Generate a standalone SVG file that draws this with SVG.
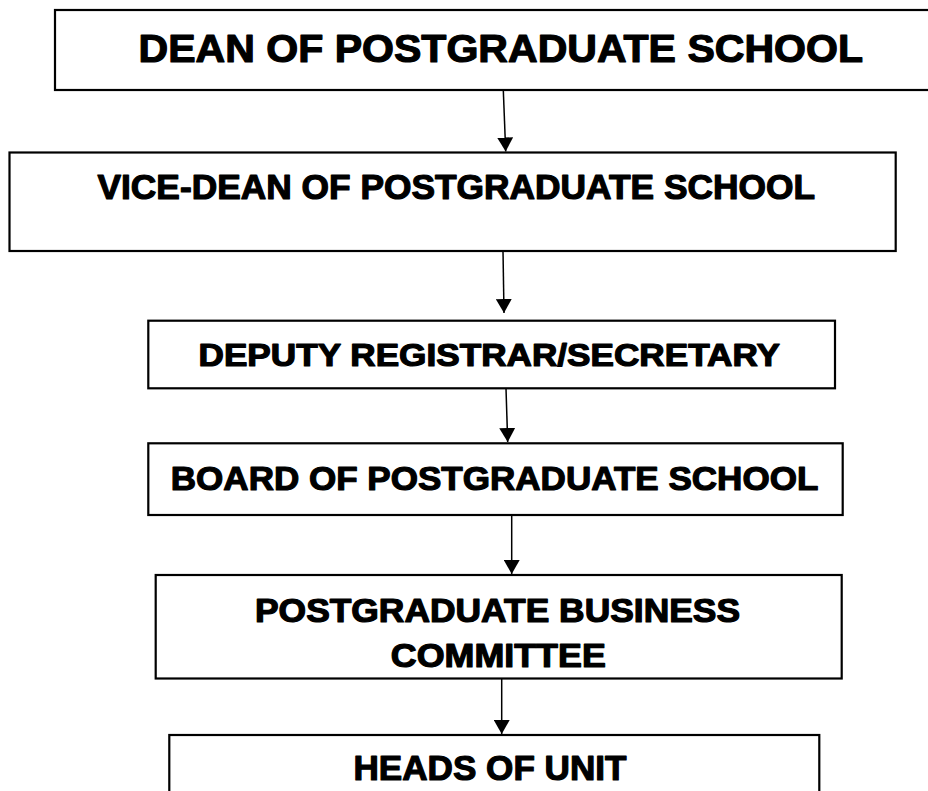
<svg xmlns="http://www.w3.org/2000/svg" width="928" height="791" viewBox="0 0 928 791">
<style>
.box{fill:#fff;stroke:#000;stroke-width:2.2}
.lbl{font-family:"Liberation Sans",Arial,sans-serif;font-weight:bold;fill:#000;stroke:#000;stroke-width:1.2;stroke-linejoin:round}
.conn{stroke:#000;stroke-width:1.5;fill:none}
</style>
<defs>
<marker id="arr" markerUnits="userSpaceOnUse" markerWidth="14" markerHeight="16" viewBox="0 0 14 16" refX="14" refY="8" orient="auto">
<path d="M0,0 L14,8 L0,16 z" fill="#000"/>
</marker>
</defs>
<rect width="928" height="791" fill="#fff"/>
<g id="dean">
<rect class="box" x="55" y="10" width="900" height="80"/>
<text class="lbl" x="138.5" y="61.7" font-size="39.5" textLength="724.5" lengthAdjust="spacingAndGlyphs">DEAN OF POSTGRADUATE SCHOOL</text>
</g>
<g id="vicedean">
<rect class="box" x="9.5" y="152.5" width="886.2" height="98.5"/>
<text class="lbl" x="97.5" y="199" font-size="34.5" textLength="717.5" lengthAdjust="spacingAndGlyphs">VICE-DEAN OF POSTGRADUATE SCHOOL</text>
</g>
<g id="deputy">
<rect class="box" x="148.3" y="320.7" width="686.7" height="67.6"/>
<text class="lbl" x="198.5" y="365.7" font-size="31" textLength="581.5" lengthAdjust="spacingAndGlyphs">DEPUTY REGISTRAR/SECRETARY</text>
</g>
<g id="board">
<rect class="box" x="148.3" y="443.3" width="694.4" height="71.7"/>
<text class="lbl" x="170.8" y="490" font-size="34" textLength="647.5" lengthAdjust="spacingAndGlyphs">BOARD OF POSTGRADUATE SCHOOL</text>
</g>
<g id="business">
<rect class="box" x="155.7" y="575" width="686" height="103.5"/>
<text class="lbl" x="255" y="621.7" font-size="32.5" textLength="485" lengthAdjust="spacingAndGlyphs">POSTGRADUATE BUSINESS</text>
<text class="lbl" x="390.8" y="666.7" font-size="32.5" textLength="215" lengthAdjust="spacingAndGlyphs">COMMITTEE</text>
</g>
<g id="heads">
<rect class="box" x="169.3" y="735" width="650" height="80"/>
<text class="lbl" x="353.5" y="780" font-size="35" textLength="273" lengthAdjust="spacingAndGlyphs">HEADS OF UNIT</text>
</g>
<g id="connectors">
<line class="conn" x1="503.3" y1="90" x2="505.7" y2="151.5" marker-end="url(#arr)"/>
<line class="conn" x1="503" y1="251" x2="504" y2="313" marker-end="url(#arr)"/>
<line class="conn" x1="506" y1="388.3" x2="507.7" y2="442" marker-end="url(#arr)"/>
<line class="conn" x1="511.7" y1="515" x2="511.7" y2="574" marker-end="url(#arr)"/>
<line class="conn" x1="501.7" y1="678.5" x2="501.7" y2="734" marker-end="url(#arr)"/>
</g>
</svg>
